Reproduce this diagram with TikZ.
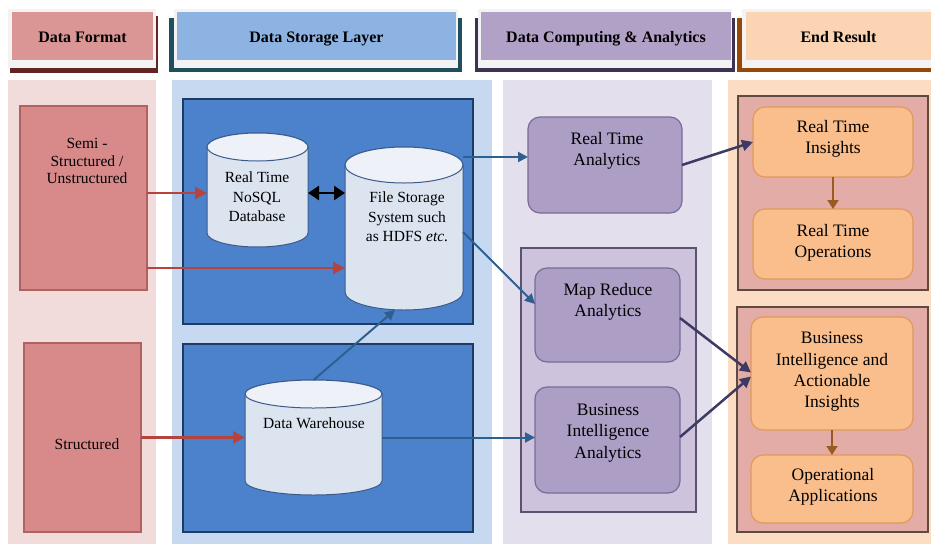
\documentclass[tikz,border=0pt]{standalone}
\usepackage{fontspec}
\setmainfont{Liberation Serif}
\usetikzlibrary{arrows.meta}
\definecolor{colF}{HTML}{F2DCDB}
\definecolor{colS}{HTML}{C6D9F0}
\definecolor{colC}{HTML}{E4DFEC}
\definecolor{colE}{HTML}{FCDDC4}
\definecolor{hF}{HTML}{D99694}
\definecolor{hFs}{HTML}{632523}
\definecolor{hS}{HTML}{8DB3E2}
\definecolor{hSs}{HTML}{1F4E5F}
\definecolor{hC}{HTML}{B2A1C7}
\definecolor{hCs}{HTML}{3F3151}
\definecolor{hE}{HTML}{FBD4B4}
\definecolor{hEs}{HTML}{974806}
\definecolor{hW}{HTML}{F3F3F3}
\definecolor{fmtfill}{HTML}{D88A8A}
\definecolor{fmtdraw}{HTML}{B06262}
\definecolor{stfill}{HTML}{4C82CC}
\definecolor{stdraw}{HTML}{1F3A63}
\definecolor{cylfill}{HTML}{DCE4F0}
\definecolor{cyltopc}{HTML}{EEF2F8}
\definecolor{cyldraw}{HTML}{3A5A8A}
\definecolor{anfill}{HTML}{AD9EC6}
\definecolor{andraw}{HTML}{7A6A99}
\definecolor{aninfill}{HTML}{CDC3DC}
\definecolor{anindraw}{HTML}{5A5370}
\definecolor{grpfill}{HTML}{E3ACA6}
\definecolor{grpdraw}{HTML}{5E4A40}
\definecolor{resfill}{HTML}{F9BE8C}
\definecolor{resdraw}{HTML}{E09A5A}
\definecolor{arrred}{HTML}{B5443F}
\definecolor{arrblue}{HTML}{2F5F8F}
\definecolor{arrpur}{HTML}{3D3B63}
\definecolor{arrbr}{HTML}{9A5A20}
\newcommand\rbox[6]{\node[#2, inner sep=0pt, outer sep=0pt, minimum width={(#5)-(#3)}, minimum height={(#6)-(#4)}] (#1) at ({((#3)+(#5))/2},{((#4)+(#6))/2}) {};}
\newcommand\mycyl[6]{%
  \node[inner sep=0pt, outer sep=0pt, minimum width={(#4)-(#2)}, minimum height={(#5)-(#3)}] (#1) at ({((#2)+(#4))/2},{((#3)+(#5))/2}) {};
  \path[cylbody] ([yshift=-#6pt]#1.north west) -- ([yshift=#6pt]#1.south west)
    arc[start angle=180, end angle=360, x radius={((#4)-(#2))/2*1pt}, y radius=#6pt]
    -- ([yshift=-#6pt]#1.north east)
    arc[start angle=0, end angle=180, x radius={((#4)-(#2))/2*1pt}, y radius=#6pt] -- cycle;
  \path[cyltop] ([yshift=-#6pt]#1.north) ellipse [x radius={((#4)-(#2))/2*1pt}, y radius=#6pt];
}
\begin{document}
\begin{tikzpicture}[x=1pt,y=-1pt,
  colbg/.style={draw=none},
  hwhite/.style={fill=hW,draw=none},
  semibox/.style={fill=fmtfill, draw=fmtdraw, line width=1.2pt},
  storebox/.style={fill=stfill, draw=stdraw, line width=1.6pt},
  cylbody/.style={fill=cylfill, draw=cyldraw, line width=1pt},
  cyltop/.style={fill=cyltopc, draw=cyldraw, line width=1pt},
  anbox/.style={rounded corners=12pt, fill=anfill, draw=andraw, line width=1.2pt},
  aninner/.style={fill=aninfill, draw=anindraw, line width=1.6pt},
  resgroup/.style={fill=grpfill, draw=grpdraw, line width=1.6pt},
  resbox/.style={rounded corners=12pt, fill=resfill, draw=resdraw, line width=1.2pt},
  htxt/.style={font=\fontsize{16}{19}\selectfont\bfseries, inner sep=0pt, text height=11pt, text depth=3.5pt},
  stxt/.style={align=center, font=\fontsize{15.5}{19.5}\selectfont, inner sep=0pt},
  ftxt/.style={align=center, font=\fontsize{15.5}{17.5}\selectfont, inner sep=0pt},
  atxt/.style={align=center, font=\fontsize{17.5}{21.3}\selectfont, inner sep=0pt},
  redarr/.style={draw=arrred, line width=2.8pt, -{Triangle[length=12pt,width=12pt]}},
  bluearr/.style={draw=arrblue, line width=2pt, -{Triangle[length=10pt,width=10pt]}},
  purarr/.style={draw=arrpur, line width=2.5pt, -{Triangle[length=11pt,width=11pt]}},
  brarr/.style={draw=arrbr, line width=1.8pt, -{Triangle[length=9pt,width=11pt]}},
  dblarr/.style={draw=black, line width=2.5pt, {Triangle[length=11pt,width=14pt]}-{Triangle[length=11pt,width=14pt]}}
]
\useasboundingbox (0,0) rectangle (931,544);
% column backgrounds
\rbox{bgF}{colbg, fill=colF}{8}{80}{156}{544}
\rbox{bgS}{colbg, fill=colS}{172}{80}{492}{544}
\rbox{bgC}{colbg, fill=colC}{503}{80}{712}{544}
\rbox{bgE}{colbg, fill=colE}{728}{80}{931}{544}
% headers
\rbox{shF}{fill=hFs}{10}{16}{158}{73}
\rbox{wF}{hwhite}{8}{9}{156}{68}
\rbox{hdF}{fill=hF}{12}{12}{153}{60}
\rbox{shS}{fill=hSs}{169}{18}{462}{72}
\rbox{wS}{hwhite}{174}{9}{458}{68}
\rbox{hdS}{fill=hS}{177}{12}{456}{60}
\rbox{shC}{fill=hCs}{475}{18}{735}{72}
\rbox{wC}{hwhite}{478}{9}{732}{68}
\rbox{hdC}{fill=hC}{481}{12}{731}{60}
\rbox{shE}{fill=hEs}{737}{18}{931}{72}
\rbox{wE}{hwhite}{742}{9}{931}{68}
\rbox{hdE}{fill=hE}{746}{12}{931}{60}
\node[htxt] (tF) at ([yshift=-2.5pt]hdF.center) {Data Format};
\node[htxt] (tS) at ([yshift=-2.5pt]hdS.center) {Data Storage Layer};
\node[htxt] (tC) at ([yshift=-2.5pt]hdC.center) {Data Computing \& Analytics};
\node[htxt] (tE) at ([yshift=-2.5pt]hdE.center) {End Result};
% data format
\rbox{semi}{semibox}{20}{106}{147}{290}
\rbox{struct}{semibox}{24}{343}{141}{532}
\node[ftxt] (semiT) at (87,161) {Semi -\\Structured /\\Unstructured};
\node[ftxt] (structT) at (87,444) {Structured};
% storage
\rbox{stUp}{storebox}{183}{99}{473}{324}
\rbox{stLo}{storebox}{183}{344}{473}{532}
\mycyl{nosql}{207}{133}{308}{247}{14}
\mycyl{fs}{345}{147}{463}{310}{18}
\mycyl{dw}{245}{380}{382}{495}{14}
\node[stxt] (nosqlT) at (257,197) {Real Time\\NoSQL\\Database};
\node[stxt] (fsT) at (407,217) {File Storage\\System such\\as HDFS \textit{etc.}};
\node[stxt] (dwT) at (314,423) {Data Warehouse};
% computing
\rbox{rta}{anbox}{528}{117}{682}{213}
\rbox{cin}{aninner}{521}{248}{696}{512}
\rbox{mr}{anbox}{535}{268}{680}{362}
\rbox{bia}{anbox}{535}{387}{680}{493}
\node[atxt] (rtaT) at (607,151) {Real Time\\Analytics};
\node[atxt] (mrT) at (608,302) {Map Reduce\\Analytics};
\node[atxt] (biaT) at (608,433) {Business\\Intelligence\\Analytics};
% end result
\rbox{grpA}{resgroup}{738}{96}{928}{290}
\rbox{rti}{resbox}{753}{107}{913}{177}
\rbox{rto}{resbox}{753}{209}{913}{279}
\rbox{grpB}{resgroup}{737}{307}{928}{532}
\rbox{biai}{resbox}{751}{317}{913}{430}
\rbox{opapp}{resbox}{751}{455}{913}{523}
\node[atxt] (rtiT) at (833,139) {Real Time\\Insights};
\node[atxt] (rtoT) at (833,243) {Real Time\\Operations};
\node[atxt] (biaiT) at (832,372) {Business\\Intelligence and\\Actionable\\Insights};
\node[atxt] (opappT) at (833,487) {Operational\\Applications};
% connectors
\coordinate (nqIn) at ([yshift=-3pt]nosql.west);
\coordinate (fsIn) at ([yshift=-39.5pt]fs.west);
\coordinate (rtaIn) at ([yshift=8pt]rta.west);
\draw[redarr] (semi.east |- nqIn) -- (nqIn);
\draw[redarr] (semi.east |- fsIn) -- (fsIn);
\draw[redarr] (struct.east) -- (dw.west);
\draw[dblarr] (nosql.east |- nqIn) -- (fs.west |- nqIn);
\draw[bluearr] (dw.north) -- ([xshift=-9pt]fs.south);
\draw[bluearr] (dw.east) -- (dw.east -| bia.west);
\draw[bluearr] (rtaIn -| fs.east) -- (rtaIn);
\draw[bluearr] ([yshift=-3.5pt]fs.east) -- ([yshift=11pt]mr.west);
\draw[purarr] (rta.east) -- (rti.west);
\draw[purarr] ([yshift=-3pt]mr.east) -- ([yshift=1pt]biai.west);
\draw[purarr] ([yshift=3pt]bia.east) -- ([yshift=-3pt]biai.west);
\draw[brarr] (rti.south) -- (rto.north);
\draw[brarr] (biai.south) -- (opapp.north);
\end{tikzpicture}
\end{document}
